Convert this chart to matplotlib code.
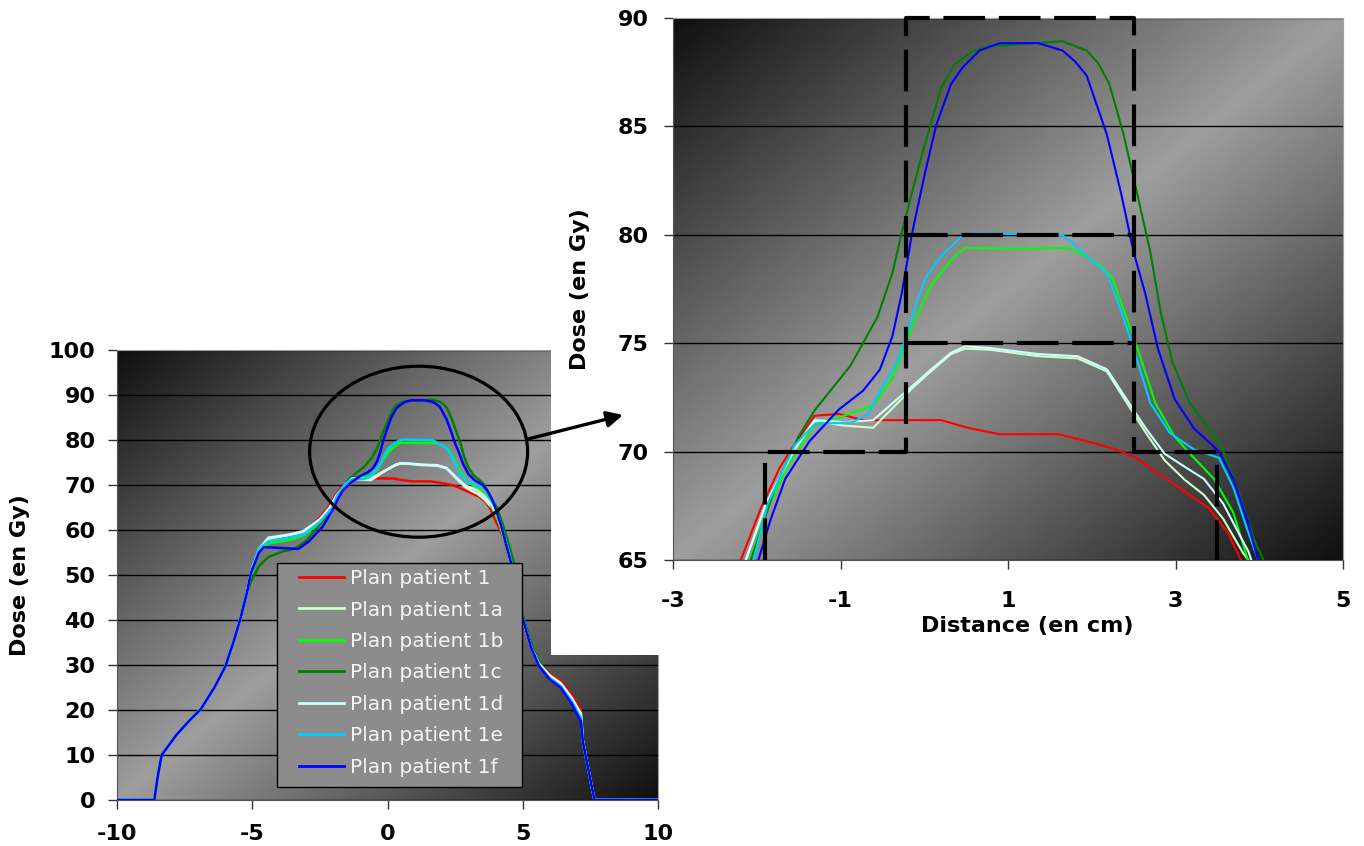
import numpy as np
import matplotlib
matplotlib.use("Agg")
import matplotlib.pyplot as plt
from matplotlib.patches import Ellipse, Rectangle, FancyArrowPatch

plt.rcParams['font.family'] = 'DejaVu Sans'
plt.rcParams['axes.unicode_minus'] = False

# rising edge on the far left, where all plans overlap
edge_x = [-10, -8.62, -8.5, -8.35, -7.8, -7.3, -6.9, -6.4, -6.0, -5.7, -5.45, -5.2]
edge_y = [0, 0, 5, 10, 14.5, 17.8, 20.2, 25, 29.6, 35, 40, 46]

# falling tail on the right
tail_x = [5.0, 5.3, 5.6, 6.0, 6.4, 6.8, 7.15, 7.22, 7.45, 7.65, 10]

p1_x = [-5.05, -4.75, -4.4, -3.6, -3.1, -2.5, -2.19, -1.95, -1.72, -1.52, -1.31, -1.02, -0.73, 0.2, 0.55,
        0.9, 1.6, 1.94, 2.29, 2.53, 2.82, 3.11, 3.4, 3.63, 3.78, 4.0, 4.33, 4.65]
p1_y = [50.4, 55.5, 57.8, 58.8, 59.6, 62.8, 65, 67.4, 69.3, 70.5, 71.65, 71.74, 71.45, 71.45, 71.07,
        70.8, 70.8, 70.48, 70.1, 69.71, 68.93, 68.16, 67.38, 66.22, 65.0, 62.0, 57.8, 50.5]
p1_tail = [39.5, 33.8, 30.5, 28, 26.5, 23.5, 20, 13.5, 6, 0, 0]

p1a_x = [-5.05, -4.75, -4.4, -3.6, -3.1, -2.5, -2.13, -1.89, -1.55, -1.31, -0.96, -0.61, -0.38, -0.15, 0.08,
         0.32, 0.49, 0.78, 1.36, 1.83, 2.18, 2.41, 2.64, 2.87, 3.11, 3.34, 3.57, 3.81, 3.87, 4.1, 4.4, 4.65]
p1a_y = [50.4, 55.6, 58.0, 58.9, 59.6, 62.2, 65, 67.58, 70.1, 71.4, 71.2, 71.1, 72.0, 72.9, 73.7,
         74.5, 74.75, 74.7, 74.4, 74.3, 73.7, 72.3, 70.9, 69.6, 68.7, 68.0, 66.9, 65.3, 65.0, 62.3, 56.5, 50.5]
p1a_tail = [40, 34, 30.2, 27.5, 25.8, 22.6, 19, 13.2, 6, 0, 0]

p1b_x = [-5.05, -4.75, -4.4, -3.6, -3.1, -2.5, -2.08, -1.89, -1.66, -1.31, -0.96, -0.61, -0.38, -0.21, -0.06,
         0.08, 0.32, 0.4, 0.49, 1.19, 1.71, 1.94, 2.1, 2.24, 2.35, 2.53, 2.76, 2.99, 3.22, 3.46, 3.69, 3.86,
         4.1, 4.4, 4.65]
p1b_y = [50.0, 55.0, 57.0, 57.8, 58.8, 61.6, 65, 67.19, 69.13, 71.26, 71.65, 72.13, 73.39, 75.14, 76.5,
         77.66, 78.82, 79.15, 79.4, 79.36, 79.4, 79.01, 78.6, 78.04, 76.88, 74.94, 72.23, 70.68, 69.71, 68.74,
         67.19, 65.06, 62.0, 56.5, 50.5]
p1b_tail = [40.3, 34.2, 30, 27.3, 25.6, 22.3, 18.8, 13.2, 6, 0, 0]

p1c_x = [-5.05, -4.75, -4.4, -3.9, -3.44, -3.0, -2.5, -2.07, -1.78, -1.5, -1.31, -0.88, -0.56, -0.38, -0.24,
         -0.03, 0.2, 0.35, 0.55, 0.78, 1.65, 1.94, 2.08, 2.21, 2.38, 2.53, 2.7, 2.82, 2.96, 3.17, 3.4, 3.54,
         3.75, 3.95, 4.05, 4.3, 4.5, 4.75]
p1c_y = [48.5, 52.0, 54.0, 55.2, 55.8, 57.6, 61.2, 65, 68.35, 70.7, 71.9, 73.97, 76.2, 78.24, 80.56,
         83.66, 86.76, 87.8, 88.41, 88.7, 88.93, 88.5, 87.9, 86.96, 84.63, 82.11, 79.2, 76.5, 74.17, 72.23,
         71.07, 70.3, 68.16, 65.83, 65.0, 60.5, 56.5, 50.8]
p1c_tail = [41, 35, 30.6, 27.6, 25.8, 22.5, 18.8, 13.2, 6, 0, 0]

p1d_x = p1a_x
p1d_y = [50.5, 55.8, 58.3, 59.0, 59.8, 62.4, 65, 67.6, 70.1, 71.45, 71.36, 71.45, 72.23, 73.0, 73.78,
         74.56, 74.86, 74.78, 74.5, 74.4, 73.8, 72.45, 71.1, 69.9, 69.3, 68.74, 67.6, 65.83, 65.4, 62.8, 56.8, 50.6]
p1d_tail = [40.2, 34.1, 30.3, 27.7, 26, 22.8, 19.2, 13.2, 6, 0, 0]

p1e_x = [-5.05, -4.75, -4.4, -3.6, -3.1, -2.5, -2.04, -1.87, -1.55, -1.31, -0.85, -0.67, -0.5, -0.32, -0.21,
         -0.09, 0.02, 0.2, 0.43, 0.6, 1.65, 1.78, 1.89, 2.18, 2.35, 2.5, 2.7, 2.93, 3.22, 3.52, 3.69, 3.84,
         3.98, 4.2, 4.45, 4.7]
p1e_y = [50.5, 55.8, 57.5, 58.3, 59.0, 61.8, 65, 67.58, 70.29, 71.26, 71.36, 71.74, 73.0, 74.17, 75.33,
         76.88, 78.04, 79.01, 79.88, 80.08, 79.98, 79.6, 79.2, 78.24, 76.5, 74.75, 72.23, 70.87, 70.1, 69.71,
         68.35, 66.6, 65.06, 61.0, 56.0, 50.0]
p1e_tail = [40.5, 34, 29.9, 27, 25.3, 22, 18.2, 13, 6, 0, 0]

p1f_x = [-5.05, -4.75, -4.56, -3.29, -2.9, -2.4, -1.98, -1.84, -1.66, -1.37, -1.02, -0.73, -0.53, -0.38, -0.27,
         -0.15, 0.0, 0.14, 0.32, 0.46, 0.66, 0.9, 1.36, 1.65, 1.8, 1.94, 2.18, 2.35, 2.5, 2.64, 2.79, 2.99,
         3.22, 3.52, 3.69, 3.86, 3.98, 4.2, 4.57, 4.75]
p1f_y = [50.4, 55.0, 56.2, 55.8, 57.5, 60.7, 65, 66.8, 68.74, 70.48, 71.94, 72.81, 73.78, 75.33, 77.27,
         79.98, 82.69, 85.02, 86.96, 87.73, 88.5, 88.84, 88.84, 88.5, 88.0, 87.34, 84.63, 81.92, 79.2, 77.27,
         74.75, 72.42, 71.07, 70.0, 68.74, 66.8, 65.06, 61.0, 52.6, 48.0]
p1f_tail = [40.3, 34, 29.8, 26.8, 25, 21.5, 17.5, 13, 6, 0, 0]

labels = ['Plan patient 1', 'Plan patient 1a', 'Plan patient 1b', 'Plan patient 1c',
          'Plan patient 1d', 'Plan patient 1e', 'Plan patient 1f']
colors = ['#ff0000', '#ccffcc', '#00ff00', '#008000', '#ccffff', '#00ccff', '#0000ff']

# dashed outline of the dose levels on the zoomed chart
box_x = [-1.9, -1.9, -0.22, -0.22, 2.51, 2.51, 3.49, 3.49]
box_y = [65, 70, 70, 90, 90, 70, 70, 65]
box_levels = [80, 75]

series = [
    (p1_x, p1_y, p1_tail), (p1a_x, p1a_y, p1a_tail), (p1b_x, p1b_y, p1b_tail), (p1c_x, p1c_y, p1c_tail),
    (p1d_x, p1d_y, p1d_tail), (p1e_x, p1e_y, p1e_tail), (p1f_x, p1f_y, p1f_tail),
]
curves = []
for mx, my, ty in series:
    curves.append((np.array(edge_x + mx + tail_x), np.array(edge_y + my + ty)))


def corner_gradient(dark, light, n=300):
    u = np.linspace(0, 1, n)
    uu, vv = np.meshgrid(u, u)
    t = np.abs(uu + vv - 1)
    return light - (light - dark) * t


fig = plt.figure(figsize=(13.64, 8.46), dpi=100)
W, H = 1364, 846

ax1 = fig.add_axes([117 / W, (H - 800) / H, 541 / W, 450 / H], zorder=0)
ax2 = fig.add_axes([673 / W, (H - 560) / H, 670 / W, 542 / H], zorder=2)

# white chart area of the zoom that covers the corner of the first chart
fig.add_artist(Rectangle((551 / W, (H - 655) / H), (W - 551) / W, 655 / H, transform=fig.transFigure,
                         facecolor='white', edgecolor='none', zorder=1))

for ax, xlim, ylim in [(ax1, (-10, 10), (0, 100)), (ax2, (-3, 5), (65, 90))]:
    ax.imshow(corner_gradient(0.06, 0.62), extent=[xlim[0], xlim[1], ylim[0], ylim[1]], aspect='auto',
              cmap='gray', vmin=0, vmax=1, interpolation='bilinear', zorder=0)
    ax.set_xlim(*xlim)
    ax.set_ylim(*ylim)
    ax.set_axisbelow(True)
    ax.yaxis.grid(True, color='black', lw=1)
    for s in ['left', 'bottom']:
        ax.spines[s].set_color('#555555')
    for s in ['top', 'right']:
        ax.spines[s].set_color('#a0a0a0')
    ax.tick_params(direction='out', length=6.5, width=1, color='#333333')

for (x, y), c, lab in zip(curves, colors, labels):
    ax1.plot(x, y, color=c, lw=1.8, label=lab, zorder=3)
    ax2.plot(x, y, color=c, lw=1.5, zorder=3)

ax1.set_xticks([-10, -5, 0, 5, 10], ['-10', '-5', '0', '5', '10'], fontsize=16, fontweight='bold')
ax1.set_yticks(range(0, 101, 10), [str(v) for v in range(0, 101, 10)], fontsize=16, fontweight='bold')
ax1.tick_params(axis='x', pad=11)
ax1.tick_params(axis='y', pad=9)
ax1.set_ylabel('Dose (en Gy)', fontsize=16, fontweight='bold')
ax1.yaxis.set_label_coords(-0.161, 0.5)

ax2.set_xticks([-3, -1, 1, 3, 5], ['-3', '-1', '1', '3', '5'], fontsize=16, fontweight='bold')
ax2.set_yticks(range(65, 91, 5), [str(v) for v in range(65, 91, 5)], fontsize=16, fontweight='bold')
ax2.tick_params(axis='x', pad=16)
ax2.tick_params(axis='y', pad=11)
ax2.set_ylabel('Dose (en Gy)', fontsize=16, fontweight='bold')
ax2.yaxis.set_label_coords(-0.124, 0.5)
ax2.set_xlabel('Distance (en cm)', fontsize=16, fontweight='bold')
ax2.xaxis.set_label_coords(0.529, -0.103)

# dashed level outlines
ax2.plot(box_x, box_y, color='black', lw=3, ls=(0, (10, 3.3)), clip_on=False, zorder=5)
for lev in box_levels:
    ax2.plot([box_x[2], box_x[4]], [lev, lev], color='black', lw=3, ls=(0, (10, 3.3)), zorder=5)

# legend box
ax1.add_patch(Rectangle((0.2957, 0.0289), 0.4529, 0.4978, transform=ax1.transAxes,
                        facecolor='#8c8c8c', edgecolor='black', lw=1, zorder=6))
leg = ax1.legend(loc='upper left', bbox_to_anchor=(0.3364, 0.5133), borderaxespad=0, borderpad=0,
                 frameon=False, fontsize=14.5, handlelength=2.23, handletextpad=0.3, labelspacing=0.62)
leg.set_zorder(7)
for t in leg.get_texts():
    t.set_color('#f4f4f4')
for h in leg.get_lines():
    h.set_linewidth(2)

# circle around the peak and arrow to the zoom
ax1.add_patch(Ellipse((1.15, 77.4), 8.06, 38, fill=False, edgecolor='black', lw=2.3, zorder=5))
fig.add_artist(FancyArrowPatch((528 / W, (H - 439) / H), (623 / W, (H - 415) / H), transform=fig.transFigure,
                               arrowstyle='-|>', mutation_scale=24, lw=2.4, color='black',
                               shrinkA=0, shrinkB=0, zorder=3))

fig.savefig('out.png', dpi=100)
